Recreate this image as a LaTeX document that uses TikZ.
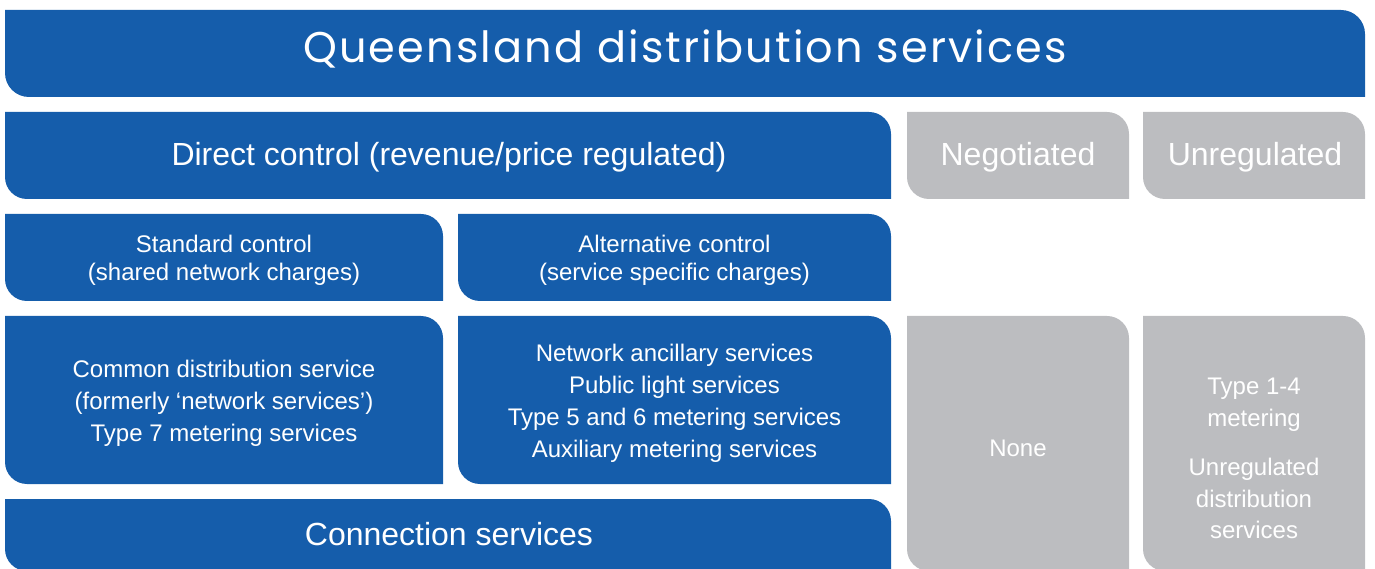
\documentclass[tikz,border=0pt]{standalone}
\usepackage{fontspec}
\setmainfont{Liberation Sans}
\newfontfamily\titlefont{Poppins}[LetterSpace=5]
\definecolor{qblue}{HTML}{155DAB}
\definecolor{qgrey}{HTML}{BCBDC0}
% box with rounded top-right and bottom-left corners
% #1 x-left, #2 y-top, #3 x-right, #4 y-bottom (pixels, measured downwards), #5 radius, #6 colour
\newcommand\qbox[6]{%
  \fill[#6] (#1,{568-#2}) -- ({#3-#5},{568-#2})
    arc[start angle=90,end angle=0,radius=#5pt] -- (#3,{568-#4})
    -- ({#1+#5},{568-#4})
    arc[start angle=270,end angle=180,radius=#5pt] -- cycle;}
\begin{document}
\begin{tikzpicture}[x=1pt,y=1pt,
  big/.style={text=white,font=\fontsize{32}{38}\selectfont,anchor=base,inner sep=0pt},
  small/.style={text=white,font=\fontsize{24}{30}\selectfont,anchor=base,inner sep=0pt},
  ttl/.style={text=white,font=\titlefont\fontsize{43}{50}\selectfont,anchor=base,inner sep=0pt}]
\useasboundingbox (0,0) rectangle (1375,568);
\clip (0,0) rectangle (1375,568);
% boxes
\qbox{5}{10}{1365}{97}{24}{qblue}
\qbox{5}{112}{891}{199}{22}{qblue}
\qbox{907}{112}{1129}{199}{22}{qgrey}
\qbox{1143}{112}{1365}{199}{22}{qgrey}
\qbox{5}{214}{443}{301}{22}{qblue}
\qbox{458}{214}{891}{301}{22}{qblue}
\qbox{5}{316}{443}{484}{22}{qblue}
\qbox{458}{316}{891}{484}{22}{qblue}
\qbox{907}{316}{1129}{571}{22}{qgrey}
\qbox{1143}{316}{1365}{571}{22}{qgrey}
\qbox{5}{499}{891}{571}{22}{qblue}
% texts
\node[ttl] (title) at (685,{568-63}) {Queensland distribution services};
\node[big] (direct) at (449,{568-166}) {Direct control (revenue/price regulated)};
\node[big] (neg) at (1018,{568-166}) {Negotiated};
\node[big] (unreg) at (1255,{568-166}) {Unregulated};
\node[small] (std1) at (224,{568-253}) {Standard control};
\node[small] (std2) at (224,{568-281}) {(shared network charges)};
\node[small] (alt1) at (674.5,{568-253}) {Alternative control};
\node[small] (alt2) at (674.5,{568-281}) {(service specific charges)};
\node[small] (com1) at (224,{568-377}) {Common distribution service};
\node[small] (com2) at (224,{568-409}) {(formerly ‘network services’)};
\node[small] (com3) at (224,{568-441}) {Type 7 metering services};
\node[small] (net1) at (674.5,{568-361}) {Network ancillary services};
\node[small] (net2) at (674.5,{568-393}) {Public light services};
\node[small] (net3) at (674.5,{568-425}) {Type 5 and 6 metering services};
\node[small] (net4) at (674.5,{568-457}) {Auxiliary metering services};
\node[small] (none) at (1018,{568-456}) {None};
\node[small] (typ1) at (1254,{568-394}) {Type 1-4};
\node[small] (typ2) at (1254,{568-426}) {metering};
\node[small] (typ3) at (1254,{568-475}) {Unregulated};
\node[small] (typ4) at (1254,{568-507}) {distribution};
\node[small] (typ5) at (1254,{568-538}) {services};
\node[big] (conn) at (449,{568-545}) {Connection services};
\end{tikzpicture}
\end{document}
